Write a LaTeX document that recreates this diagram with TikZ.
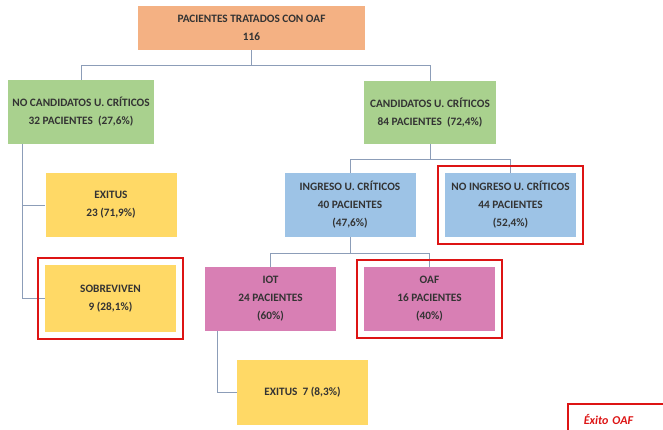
\documentclass[tikz,border=0pt]{standalone}
\usepackage{fontspec}
\setmainfont{Carlito}
\usetikzlibrary{fit}
\definecolor{salmon}{HTML}{F4B183}
\definecolor{leaf}{HTML}{A9D18E}
\definecolor{sand}{HTML}{FFD966}
\definecolor{sky}{HTML}{9DC3E6}
\definecolor{rose}{HTML}{D87FB4}
\definecolor{wire}{HTML}{8C9DB8}
\definecolor{alarm}{HTML}{DD1414}

\begin{document}
\begin{tikzpicture}[x=1pt,y=-1pt,
    box/.style={minimum width=131pt,minimum height=64pt,align=center,inner sep=2pt,
        font=\bfseries\fontsize{11.3}{18}\selectfont,text=black!80},
    conn/.style={wire,line width=0.8pt},
    hit/.style={draw=alarm,line width=1.8pt,inner sep=6.5pt},
    legend/.style={draw=alarm,fill=white,line width=1.6pt,text=alarm,
        font=\bfseries\itshape\fontsize{12}{14}\selectfont,
        text width=100pt,align=left,inner xsep=16pt,minimum height=31pt}]
    \useasboundingbox(0,0)rectangle(663,430);
    \clip(0,0)rectangle(663,430);

    \node[box,fill=salmon,minimum width=227pt,minimum height=44pt](top)at(251.5,28){PACIENTES TRATADOS CON OAF\\116};
    \node[box,fill=leaf,minimum width=146pt](nocand)at(81,112){NO CANDIDATOS U. CRÍTICOS\\32 PACIENTES\ \ (27,6\%)};
    \node[box,fill=leaf,minimum width=132pt,minimum height=63pt](cand)at(430,112.5){CANDIDATOS U. CRÍTICOS\\84 PACIENTES\ \ (72,4\%)};
    \node[box,fill=sand](exit1)at(111,205){EXITUS\\23 (71,9\%)};
    \node[box,fill=sand,minimum height=67pt](sobrev)at(110.5,298.5){SOBREVIVEN\\9 (28,1\%)};
    \node[box,fill=sky](ingr)at(350,205){INGRESO U. CRÍTICOS\\40 PACIENTES\\(47,6\%)};
    \node[box,fill=sky](noingr)at(510.5,205){NO INGRESO U. CRÍTICOS\\44 PACIENTES\\(52,4\%)};
    \node[box,fill=rose](iot)at(270.5,299){IOT\\24 PACIENTES\\(60\%)};
    \node[box,fill=rose](oaf)at(429.5,299){OAF\\16 PACIENTES\\(40\%)};
    \node[box,fill=sand,minimum height=65pt](exit7)at(302.5,392.5){EXITUS\ \ 7 (8,3\%)};

    % connectors
    \draw[conn](top.south)--++(0,15)coordinate(j1);
    \draw[conn](nocand.north)|-(j1)-|(cand.north);
    \draw[conn]([xshift=15pt]nocand.south west)|-(exit1.west);
    \draw[conn]([xshift=15pt]nocand.south west)|-(sobrev.west);
    \draw[conn](cand.south)--++(0,15)coordinate(j2);
    \draw[conn](ingr.north)|-(j2)-|(noingr.north);
    \draw[conn](ingr.south)--++(0,16)coordinate(j3);
    \draw[conn](iot.north)|-(j3)-|(oaf.north);
    \draw[conn]([xshift=13pt]iot.south west)|-(exit7.west);

    % red frames
    \node[hit,fit=(sobrev)](fsobrev){};
    \node[hit,fit=(noingr)](fnoingr){};
    \node[hit,fit=(oaf)](foaf){};
    \node[legend,anchor=north west](exito)at(567,403){Éxito OAF};
\end{tikzpicture}
\end{document}
